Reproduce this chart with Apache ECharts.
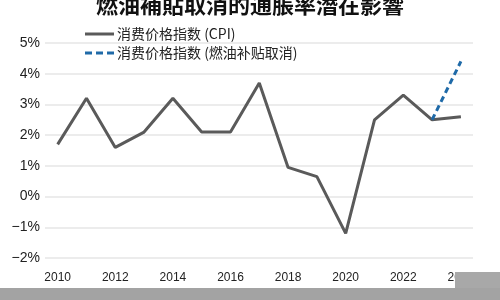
<!DOCTYPE html>
<html><head><meta charset="utf-8">
<script src="https://cdn.jsdelivr.net/npm/echarts@6/dist/echarts.min.js"></script>
<style>html,body{margin:0;padding:0;background:#fff}#c{width:500px;height:300px}</style>
</head><body><div id="c"></div>
<script>
const years = [2010,2011,2012,2013,2014,2015,2016,2017,2018,2019,2020,2021,2022,2023,2024];
const cpi = [1.7,3.2,1.6,2.1,3.2,2.1,2.1,3.7,0.95,0.65,-1.2,2.5,3.3,2.5,2.6];
const cpiNoSubsidyYears = [2023,2024];
const cpiNoSubsidy = [2.5,4.4];
const xTickLabels = [2010,2012,2014,2016,2018,2020,2022,2024];
const seriesNames = ['消费价格指数 (CPI)','消费价格指数 (燃油补贴取消)'];
const titleText = '燃油補貼取消的通脹率潛在影響';

const chart = echarts.init(document.getElementById('c'));
const font = 'Liberation Sans, Arial, Noto Sans CJK SC, sans-serif';
chart.setOption({
  animation:false,
  textStyle:{fontFamily:font},
  title:{text:titleText,left:'center',top:-11,textStyle:{fontSize:22,fontWeight:'bold',color:'#111',fontFamily:'Noto Sans CJK SC, sans-serif'}},
  legend:{orient:'vertical',left:80,top:22,itemWidth:29,itemHeight:3,itemGap:5,
    textStyle:{fontSize:14,color:'#222',fontFamily:'Noto Sans CJK SC, sans-serif',padding:[0,0,0,-2]},
    data:[
      {name:seriesNames[0],icon:'rect',itemStyle:{color:'#5a5a5a'}},
      {name:seriesNames[1],icon:'path://M0,0H7V3H0Z M11,0H18V3H11Z M22,0H29V3H22Z',itemStyle:{color:'#1f6aa8'}}
    ]},
  grid:{left:45,right:27,top:43,bottom:42},
  xAxis:{type:'value',min:2009.56,max:2024.42,
    axisLine:{show:false},axisTick:{show:false},splitLine:{show:false},
    axisLabel:{customValues:xTickLabels,fontSize:12,color:'#222',margin:14,formatter:v=>String(v)}},
  yAxis:{type:'value',min:-2,max:5,interval:1,
    axisLine:{show:false},axisTick:{show:false},
    splitLine:{lineStyle:{color:'#e6e6e6',width:1.5}},
    axisLabel:{fontSize:14,color:'#222',margin:5,formatter:v=>(v<0?'\u2212'+Math.abs(v):v)+'%'}},
  series:[
    {name:seriesNames[0],type:'line',symbol:'none',data:years.map((y,i)=>[y,cpi[i]]),
      lineStyle:{color:'#5a5a5a',width:3},itemStyle:{color:'#5a5a5a'}},
    {name:seriesNames[1],type:'line',symbol:'none',data:cpiNoSubsidyYears.map((y,i)=>[y,cpiNoSubsidy[i]]),
      lineStyle:{color:'#1f6aa8',width:3,type:[6,4]},itemStyle:{color:'#1f6aa8'}}
  ],
  graphic:[
    {type:'rect',shape:{x:0,y:288,width:500,height:12},style:{fill:'#a3a3a3'},z:100},
    {type:'rect',shape:{x:455,y:272,width:45,height:16},style:{fill:'#a8a8a8'},z:100}
  ]
});
</script></body></html>
